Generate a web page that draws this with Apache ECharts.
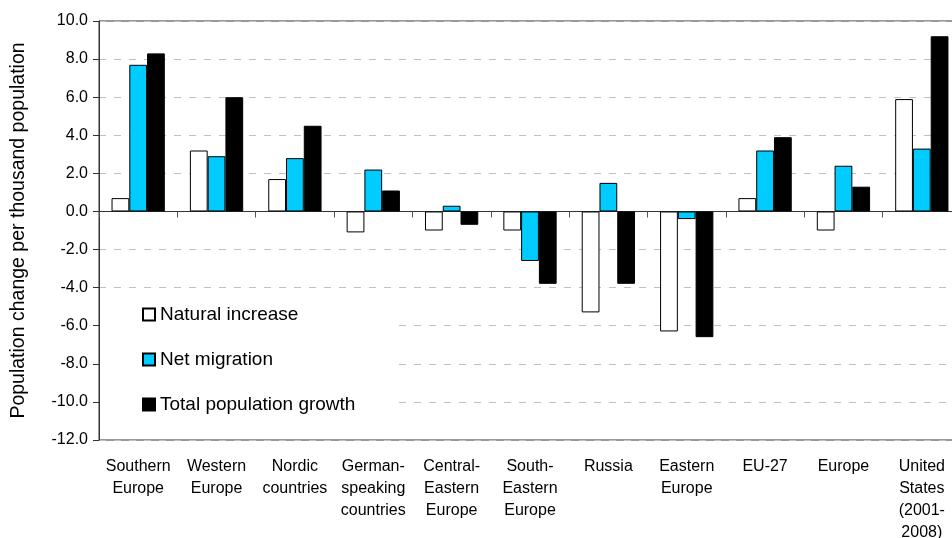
<!DOCTYPE html>
<html>
<head>
<meta charset="utf-8">
<script src="https://cdn.jsdelivr.net/npm/echarts@6/dist/echarts.min.js"></script>
<style>
  html, body { margin: 0; padding: 0; background: #fff; }
  #chart { width: 952px; height: 538px; }
</style>
</head>
<body>
<div id="chart"></div>
<script>
// Regions compared (per thousand population)
const categories = [
  'Southern\nEurope', 'Western\nEurope', 'Nordic\ncountries',
  'German-\nspeaking\ncountries', 'Central-\nEastern\nEurope',
  'South-\nEastern\nEurope', 'Russia', 'Eastern\nEurope', 'EU-27',
  'Europe', 'United\nStates\n(2001-\n2008)'
];
const naturalIncrease = [0.7, 3.2, 1.7, -1.1, -1.0, -1.0, -5.3, -6.3, 0.7, -1.0, 5.9];
const netMigration    = [7.7, 2.9, 2.8, 2.2, 0.3, -2.6, 1.5, -0.4, 3.2, 2.4, 3.3];
const totalGrowth     = [8.3, 6.0, 4.5, 1.1, -0.7, -3.8, -3.8, -6.6, 3.9, 1.3, 9.2];
const seriesNames = ['Natural increase', 'Net migration', 'Total population growth'];
const yTicks = { min: -12, max: 10, step: 2 };

const FONT = '"Liberation Sans", Arial, sans-serif';
const chart = echarts.init(document.getElementById('chart'), null, { renderer: 'canvas' });

const barStyle = (fill) => ({ color: fill, borderColor: '#000', borderWidth: 1 });

chart.setOption({
  animation: false,
  backgroundColor: '#fff',
  textStyle: { fontFamily: FONT, color: '#000' },
  grid: {
    // the plot frame runs slightly past the right edge of the canvas
    left: 99, top: 21, width: 862, height: 419,
    outerBoundsMode: 'none',
    containLabel: false,
    show: true, borderColor: '#333', borderWidth: 1, backgroundColor: 'transparent'
  },
  legend: {
    orient: 'vertical',
    left: 100, top: 295,
    padding: [10, 40, 18, 42],
    backgroundColor: '#fff',
    itemWidth: 12, itemHeight: 12, itemGap: 26,
    icon: 'rect',
    textStyle: { fontFamily: FONT, fontSize: 19, color: '#000', lineHeight: 19 },
    data: seriesNames
  },
  xAxis: [
    {
      type: 'category',
      data: categories,
      position: 'bottom',
      axisLine: { show: false, onZero: false },
      axisTick: { show: false },
      axisLabel: {
        interval: 0, margin: 16, fontFamily: FONT, fontSize: 16,
        lineHeight: 22, color: '#000', verticalAlign: 'top'
      }
    },
    {
      // zero baseline with category separator ticks
      type: 'category',
      data: categories,
      position: 'top',
      axisLine: { show: true, onZero: true, lineStyle: { color: '#333', width: 1 } },
      axisTick: { show: true, inside: true, length: 6, lineStyle: { color: '#555' } },
      axisLabel: { show: false }
    }
  ],
  yAxis: {
    type: 'value',
    min: yTicks.min, max: yTicks.max, interval: yTicks.step,
    name: 'Population change per thousand population',
    nameLocation: 'middle',
    nameGap: 70,
    nameTextStyle: { fontFamily: FONT, fontSize: 19.5, color: '#000' },
    axisLine: { show: true, lineStyle: { color: '#333' } },
    axisTick: { show: true, length: 6, lineStyle: { color: '#333' } },
    axisLabel: {
      margin: 11, fontFamily: FONT, fontSize: 16, color: '#000',
      formatter: (v) => v.toFixed(1)
    },
    splitLine: { show: true, lineStyle: { color: '#c0c0c0', type: [7, 8], width: 1 } }
  },
  series: [
    {
      name: seriesNames[0], type: 'bar', data: naturalIncrease,
      itemStyle: barStyle('#ffffff'), barGap: '0%', barCategoryGap: '32%'
    },
    {
      name: seriesNames[1], type: 'bar', data: netMigration,
      itemStyle: barStyle('#00ccff'), barGap: '0%', barCategoryGap: '32%'
    },
    {
      name: seriesNames[2], type: 'bar', data: totalGrowth,
      itemStyle: barStyle('#000000'), barGap: '0%', barCategoryGap: '32%'
    }
  ]
});
</script>
</body>
</html>
